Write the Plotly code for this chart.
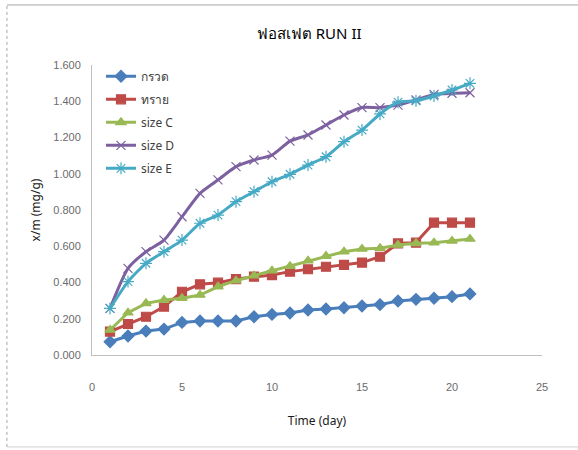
import plotly.graph_objects as go

# Phosphate adsorption, run II: x/m (mg/g) over time (day)
days = list(range(1, 22))

gravel = [0.073, 0.105, 0.132, 0.143, 0.180, 0.188, 0.188, 0.188, 0.211, 0.224, 0.232,
          0.248, 0.254, 0.261, 0.270, 0.278, 0.298, 0.307, 0.313, 0.322, 0.337]
sand = [0.129, 0.171, 0.211, 0.267, 0.349, 0.390, 0.399, 0.419, 0.432, 0.441, 0.460,
        0.473, 0.487, 0.497, 0.510, 0.542, 0.616, 0.620, 0.730, 0.730, 0.730]
size_c = [0.138, 0.233, 0.285, 0.303, 0.313, 0.331, 0.377, 0.410, 0.438, 0.465, 0.490,
          0.520, 0.546, 0.570, 0.585, 0.589, 0.607, 0.616, 0.620, 0.629, 0.640]
size_d = [0.257, 0.478, 0.570, 0.634, 0.763, 0.892, 0.966, 1.039, 1.076, 1.103, 1.180,
          1.214, 1.269, 1.324, 1.365, 1.365, 1.379, 1.407, 1.438, 1.444, 1.447]
size_e = [0.257, 0.405, 0.506, 0.570, 0.634, 0.727, 0.772, 0.846, 0.901, 0.956, 0.997,
          1.048, 1.094, 1.177, 1.241, 1.330, 1.395, 1.403, 1.429, 1.462, 1.499]

series_names = ["กรวด", "ทราย", "size C", "size D", "size E"]
y_ticks = [0, 0.2, 0.4, 0.6, 0.8, 1.0, 1.2, 1.4, 1.6]
x_ticks = [0, 5, 10, 15, 20, 25]

styles = [
    dict(color="#4A7EBB", symbol="diamond", size=9, shape="linear"),
    dict(color="#BE4B48", symbol="square", size=9, shape="linear"),
    dict(color="#98B954", symbol="triangle-up", size=9, shape="linear"),
    dict(color="#7D60A0", symbol="x-thin-open", size=9, shape="spline"),
    dict(color="#46AAC5", symbol="asterisk-open", size=10, shape="spline"),
]

fig = go.Figure()
for i, (name, vals, st) in enumerate(zip(series_names, [gravel, sand, size_c, size_d, size_e], styles)):
    fig.add_trace(go.Scatter(
        x=days, y=vals, name=name, mode="lines+markers", legendgroup=f"g{i}",
        line=dict(color=st["color"], width=3, shape=st["shape"], smoothing=0.6),
        marker=dict(symbol=st["symbol"], size=st["size"], color=st["color"],
                    line=dict(color=st["color"], width=1.2)),
    ))

axis_font = dict(family="Liberation Sans, Arial, sans-serif", size=11, color="#6B6B6B")
label_font = "Noto Sans, DejaVu Sans, sans-serif"

fig.update_layout(
    width=578, height=450,
    margin=dict(l=92, r=36, t=65, b=95),
    paper_bgcolor="white", plot_bgcolor="white",
    title=dict(text="ฟอสเฟต RUN II", x=0.535, xanchor="center", y=0.925, yanchor="middle",
               font=dict(family=label_font, size=15, color="#000000")),
    legend=dict(x=0.02, y=1.011, xanchor="left", yanchor="top",
                bgcolor="rgba(0,0,0,0)", font=dict(family=label_font, size=12, color="#404040"),
                itemwidth=30, tracegroupgap=4),
    xaxis=dict(range=[0, 25], tickvals=x_ticks, showgrid=False, zeroline=False,
               showline=True, linecolor="#BFBFBF", linewidth=1, ticks="",
               tickfont=axis_font, ticklabelstandoff=22,
               title=dict(text="Time (day)", standoff=24,
                          font=dict(family=label_font, size=12, color="#1A1A1A"))),
    yaxis=dict(range=[0, 1.6], tickvals=y_ticks, tickformat=".3f", showgrid=False, zeroline=False,
               showline=True, linecolor="#BFBFBF", linewidth=1, ticks="",
               tickfont=axis_font, ticklabelstandoff=8,
               title=dict(text="x/m (mg/g)", standoff=10,
                          font=dict(family=label_font, size=12, color="#1A1A1A"))),
    shapes=[
        # outer chart frame
        dict(type="line", xref="paper", yref="paper", x0=-0.189, x1=1.2, y0=1.207, y1=1.207,
             line=dict(color="#A6A6A6", width=1)),
        dict(type="line", xref="paper", yref="paper", x0=-0.189, x1=-0.189, y0=-0.317, y1=1.207,
             line=dict(color="#A6A6A6", width=1, dash="dot")),
        dict(type="line", xref="paper", yref="paper", x0=-0.189, x1=1.2, y0=-0.317, y1=-0.317,
             line=dict(color="#D0D0D0", width=1)),
    ],
)

fig.write_html("out.html")
